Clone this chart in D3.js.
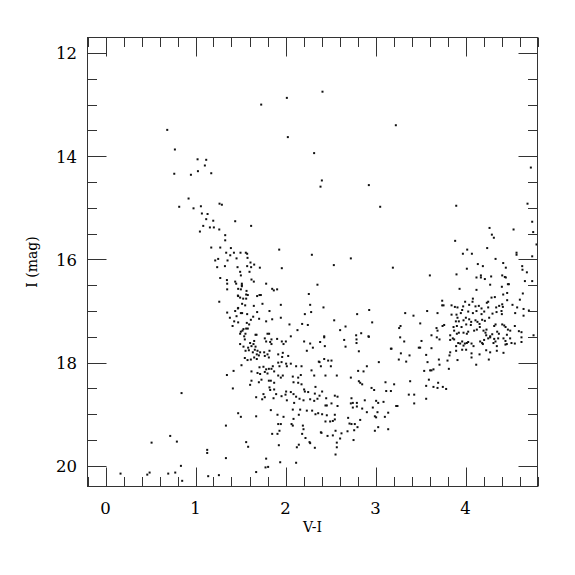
<!DOCTYPE html>
<html>
<head>
<meta charset="utf-8">
<script src="https://cdn.jsdelivr.net/npm/d3@7"></script>
<style>
  body { margin: 0; background: #fff; }
  text { font-family: "DejaVu Serif", "Liberation Serif", serif; fill: #000; }
</style>
</head>
<body>
<div id="cmd"></div>
<script>
// colour-magnitude diagram, [V-I, I] per star

const brightStars = [
  [0.686,13.49],[0.771,13.87],[1.023,14.06],[1.119,14.07],[1.104,14.18],[1.027,14.29],
  [1.175,14.33],[0.764,14.34],[0.949,14.36],
  [2.411,12.75],[2.015,12.87],[1.730,13.00],[2.026,13.63],[2.318,13.94],[2.404,14.47],
  [2.389,14.59],[2.926,14.56],[3.226,13.40],[4.726,14.22]
];

const blueBranch = [
  [0.923,14.82],[0.819,14.98],[1.060,14.97],[0.978,15.01],[1.267,14.92],[1.293,14.94],
  [1.071,15.11],[1.134,15.12],[1.119,15.22],[1.197,15.25],[1.441,15.26],[1.086,15.35],
  [1.160,15.38],[1.204,15.38],[1.049,15.46],[1.264,15.42],[1.330,15.53],[1.330,15.63],
  [1.175,15.77],[1.275,15.77],[1.393,15.78],[1.341,15.87],[1.427,15.87],[1.386,15.92],
  [1.219,16.02],[1.252,15.99],[1.356,16.02],[1.456,15.98],[1.241,16.15],[1.327,16.13],
  [1.467,16.15],[1.275,16.36],[1.349,16.40],[1.441,16.43],[1.452,16.47],[1.352,16.47],
  [1.352,16.58],[1.471,16.70],[1.264,16.82],[1.471,16.95],[1.441,17.00],[1.352,17.03],
  [1.456,17.10],[1.382,17.13],[1.430,17.20],[1.412,17.29]
];

const upperGiants = [
  [3.052,14.98],[1.618,15.35],[1.930,15.81],[2.293,15.91],[2.726,15.98],[2.537,16.11],
  [1.959,16.17],[2.355,16.49],[2.259,16.67],[2.274,16.88],[2.285,17.02],[2.215,17.06],
  [2.422,16.93],[2.796,17.06],[2.930,16.98],[2.963,17.22],[2.541,17.18],[2.248,17.27],
  [2.185,17.25],[2.044,17.26],[2.133,17.37],[2.607,17.37],[2.667,17.30],[2.785,17.47],
  [2.841,17.43],[2.922,17.49],[2.430,17.49],[2.059,17.49],
  [1.500,15.87],[1.559,15.87],[1.574,15.89],[1.578,15.97],[1.611,16.06],[1.574,16.13],
  [1.618,16.15],[1.652,16.10],[1.715,16.16],[1.496,16.24],[1.600,16.24],[1.504,16.31],
  [1.622,16.39],[1.648,16.43],[1.515,16.47],[1.515,16.50],[1.515,16.52],[1.785,16.47],
  [1.474,16.57],[1.504,16.58],[1.852,16.57],[1.870,16.60],[1.907,16.58],[1.567,16.61],
  [1.563,16.68],[1.581,16.69],[1.474,16.71],[1.496,16.74],[1.530,16.76],[1.563,16.76],
  [1.685,16.71],[1.711,16.69],[1.726,16.69],[1.518,16.86],[1.552,16.89],[1.474,16.94],
  [1.744,16.86],[1.648,16.90],[1.948,16.88],[1.504,17.04],[1.518,17.04],[1.574,17.06],
  [1.685,17.02],[1.822,17.00],[1.641,17.11],[1.948,17.13],[1.852,17.16],[1.615,17.17],
  [1.707,17.15],[1.785,17.20],[1.474,17.22],[1.570,17.23],[1.596,17.26],[1.563,17.34],
  [1.581,17.34],[1.533,17.35],[1.504,17.40],[1.522,17.38],[1.555,17.44],[1.496,17.44],
  [1.667,17.46],[1.678,17.46],[1.800,17.44],[1.818,17.44],[1.541,17.49]
];

const lowerGiants = [
  [1.548,17.55],[1.607,17.62],[1.652,17.58],[1.644,17.64],[1.770,17.53],[1.785,17.59],
  [1.830,17.60],[1.844,17.55],[1.844,17.64],[1.907,17.54],[1.959,17.59],[2.004,17.59],
  [1.978,17.64],[1.496,17.64],[2.207,17.59],[2.274,17.63],[2.304,17.71],[2.385,17.60],
  [2.437,17.68],[2.430,17.51],[2.652,17.56],[2.667,17.69],[2.789,17.55],[2.789,17.62],
  [2.815,17.78],[2.926,17.50],[2.237,17.77],
  [1.533,17.69],[1.585,17.71],[1.622,17.68],[1.667,17.69],[1.659,17.75],[1.689,17.77],
  [1.556,17.77],[1.593,17.76],[1.637,17.80],[1.681,17.84],[1.718,17.80],[1.704,17.86],
  [1.763,17.80],[1.800,17.84],[1.822,17.77],[1.815,17.90],[1.770,17.87],[1.919,17.84],
  [1.970,17.81],[1.963,17.89],[2.030,17.87],[1.548,17.91],[1.578,17.95],[1.615,17.94],
  [1.652,17.90],[1.681,17.93],
  [1.511,18.05],[1.622,18.17],[1.711,18.09],[1.755,18.08],[1.785,18.13],[1.815,18.12],
  [1.844,18.12],[1.859,18.07],[1.689,18.20],[1.718,18.22],[1.770,18.18],[1.800,18.21],
  [1.874,18.17],[1.919,18.00],[1.956,17.99],[1.933,18.07],[2.007,18.02],[2.059,18.02],
  [2.015,18.07],[2.118,18.07],[2.178,18.07],[2.378,17.99],[2.370,17.98],[2.430,17.93],
  [2.474,17.96],[2.511,17.96],[2.393,18.07],[2.504,18.07],[2.289,18.15],[2.319,18.25],
  [2.444,18.25],[2.570,18.25],[2.904,18.07],[2.867,18.17],[2.807,18.16],[3.037,17.99],
  [2.726,18.29],[1.919,18.25],[1.948,18.29],[1.970,18.25],[1.622,18.35],[1.607,18.43],
  [1.704,18.38],[1.733,18.33],[1.815,18.35],[1.837,18.35],[1.874,18.39],[2.081,18.27],
  [2.141,18.29],[2.170,18.24],[2.089,18.38],[2.141,18.39],[2.178,18.42],[2.333,18.47],
  [2.815,18.36],[2.852,18.42],[2.830,18.39],[2.956,18.49],[2.985,18.53],[3.111,18.38],
  [3.119,18.55]
];

const faintStars = [
  [1.822,18.48],[1.830,18.53],[1.874,18.52],[1.896,18.61],[1.755,18.61],[1.770,18.67],
  [1.867,18.69],[1.956,18.65],[1.674,18.67],[1.741,18.71],[2.007,18.56],[2.000,18.62],
  [2.059,18.57],[2.089,18.61],[2.118,18.66],[2.207,18.52],[2.215,18.56],[2.252,18.57],
  [2.274,18.71],[2.156,18.70],[2.200,18.73],[2.015,18.73],[2.096,18.78],[2.326,18.60],
  [2.355,18.70],[2.378,18.64],[2.407,18.56],[2.319,18.74],[2.452,18.69],[2.548,18.64],
  [2.578,18.66],[2.511,18.79],[2.578,18.84],[2.459,18.83],[2.444,18.83],[2.733,18.69],
  [2.748,18.78],[2.726,18.79],[2.793,18.78],[2.793,18.85],[2.748,18.87],[2.881,18.73],
  [2.970,18.87],[3.007,18.74],[3.030,18.78],[3.089,18.76],[2.852,18.89],[2.904,18.96],
  [2.993,19.04],[3.007,19.06],[3.022,18.96],
  [1.837,18.92],[1.911,19.01],[1.978,19.05],[1.674,19.04],[1.474,18.98],[1.504,19.05],
  [2.081,18.91],[2.163,18.91],[2.237,18.93],[2.296,18.93],[2.333,19.00],[2.363,18.98],
  [2.407,19.00],[2.148,19.01],[2.089,19.09],[2.459,19.02],[2.548,19.01],[2.548,19.10],
  [2.526,19.13],[2.496,19.14],[2.444,19.14],[2.696,19.07],[2.711,19.18],[2.733,19.19],
  [2.770,19.19],[2.830,19.11],[1.919,19.19],[1.948,19.19],[1.933,19.32],[2.067,19.19],
  [2.081,19.22],[2.193,19.22],[2.200,19.29],[2.185,19.38],[2.393,19.35],[2.400,19.36],
  [2.467,19.42],[2.526,19.41],[2.556,19.32],[2.622,19.37],[2.689,19.33],[2.763,19.31],
  [2.800,19.25],[2.993,19.32],[3.030,19.25],[3.104,19.05],[1.852,19.38],[1.911,19.38],
  [2.222,19.46],[2.267,19.54],[2.274,19.56],[2.148,19.59],[2.126,19.64],[2.326,19.65],
  [2.570,19.55],[2.607,19.47],[2.570,19.64],[2.756,19.50],[2.556,19.78],[1.563,19.54],
  [1.585,19.63],[1.926,19.60],[1.785,19.86],[1.941,19.93],[2.118,19.94],[1.778,20.03],
  [1.807,20.02],[1.674,20.12]
];

const blueFaint = [
  [1.423,18.16],[1.349,18.24],[1.415,18.50],[0.845,18.59],[1.338,19.22],[0.719,19.42],
  [0.512,19.55],[0.793,19.53],[1.130,19.69],[1.130,19.75],[1.338,19.85],[0.838,20.00],
  [0.167,20.15],[0.464,20.17],[0.490,20.13],[0.697,20.15],[0.775,20.13],[0.852,20.29],
  [1.141,20.20],[1.260,20.18]
];

const redGiants = [
  [4.689,14.92],[3.897,14.96],[4.741,15.27],[4.534,15.42],[4.752,15.47],[4.267,15.39],
  [4.293,15.52],[4.315,15.58],[3.885,15.64],[4.789,15.71],[4.241,15.78],[4.019,15.81],
  [3.971,15.89],[4.071,15.89],[4.567,15.87],[4.567,15.91],[4.741,15.94],[4.334,15.99],
  [4.419,16.07],[4.137,16.09],[4.193,16.13],[4.448,16.16],[4.630,16.13],[3.193,16.16],
  [4.015,16.18],[4.633,16.20],[4.682,16.25],[3.604,16.31],[3.900,16.29],[4.171,16.31],
  [4.171,16.35],[4.122,16.35],[4.215,16.38],[4.285,16.33],[4.408,16.31],[4.437,16.34],
  [4.448,16.35],[4.741,16.42],[4.660,16.42],[4.274,16.49],[4.404,16.53],[4.471,16.48],
  [4.482,16.48],[3.934,16.57],[4.122,16.59],[4.463,16.65],[4.419,16.68],[4.637,16.66],
  [4.289,16.74],[4.326,16.73],[4.252,16.82],[4.237,16.84],[4.463,16.79],[4.604,16.78],
  [4.082,16.76],[4.078,16.82],[3.996,16.82],[3.741,16.80]
];

const redClump = [
  [3.756,16.89],[3.741,16.89],[3.845,16.89],[3.882,16.92],[3.911,16.93],[3.974,16.91],
  [4.041,16.88],[4.111,16.91],[4.148,16.90],[4.178,16.95],[4.252,16.93],[4.341,16.93],
  [4.374,16.90],[4.408,16.87],[4.415,16.92],[4.522,16.88],[4.574,16.93],[4.645,16.96],
  [4.704,16.99],[3.574,17.00],[3.689,17.04],[3.845,17.07],[3.900,17.07],[3.948,17.04],
  [3.963,16.98],[4.030,17.01],[4.082,17.04],[4.122,17.00],[4.178,17.06],[4.208,17.01],
  [4.300,17.05],[4.345,17.02],[4.400,17.00],[4.404,17.06],[4.552,17.04],[4.645,17.09],
  [3.330,17.04],[3.422,17.09],[3.497,17.24],[3.278,17.29],[3.263,17.33],[3.763,17.27],
  [3.745,17.29],[3.678,17.33],[3.689,17.38],[3.867,17.31],[3.893,17.20],[3.911,17.13],
  [3.926,17.20],[3.978,17.18],[4.004,17.13],[4.041,17.16],[4.063,17.21],[4.111,17.18],
  [4.133,17.21],[4.156,17.25],[4.185,17.17],[4.215,17.19],[4.263,17.13],[4.059,17.27],
  [4.008,17.26],[3.956,17.31],[3.904,17.29],[3.874,17.38],[3.904,17.44],[3.926,17.42],
  [3.978,17.42],[4.015,17.44],[4.030,17.40],[4.096,17.38],[4.126,17.36],[4.159,17.31],
  [4.200,17.38],[4.222,17.42],[4.233,17.36],[4.319,17.29],[4.334,17.26],[4.408,17.26],
  [4.430,17.28],[4.445,17.31],[4.352,17.40],[4.371,17.44],[4.471,17.36],[4.497,17.38],
  [4.548,17.29],[4.593,17.39],[4.622,17.41],[4.756,17.47],[3.622,17.47],[3.830,17.47],
  [4.230,17.47],[4.297,17.45],[4.460,17.46],[4.274,17.49]
];

const clumpTail = [
  [3.274,17.51],[3.319,17.59],[3.178,17.73],[3.511,17.58],[3.496,17.71],[3.481,17.71],
  [3.681,17.51],[3.711,17.55],[3.830,17.56],[3.859,17.53],[3.874,17.55],[3.919,17.62],
  [3.941,17.63],[3.963,17.59],[3.993,17.63],[4.015,17.62],[4.030,17.60],[3.896,17.68],
  [3.963,17.75],[4.007,17.75],[3.978,17.67],[4.067,17.63],[4.089,17.68],[4.163,17.59],
  [4.185,17.62],[4.207,17.56],[4.252,17.53],[4.274,17.51],[4.319,17.54],[4.333,17.59],
  [4.311,17.62],[4.363,17.53],[4.422,17.53],[4.444,17.58],[4.459,17.64],[4.496,17.53],
  [4.511,17.62],[4.548,17.63],[4.622,17.60],[4.622,17.51],[4.193,17.64],[4.230,17.76],
  [4.274,17.80],[4.348,17.68],[4.348,17.77],[4.422,17.81],[4.444,17.65],[4.067,17.82],
  [4.067,17.90],[4.156,17.84],[3.830,17.80],[3.896,17.77],[3.171,17.73],[3.282,17.82],
  [3.259,17.94],[3.341,17.98],[3.378,17.86],[3.563,17.85],[3.622,17.72],[3.578,17.99],
  [3.704,17.94],[3.711,18.04],[3.800,17.96],[3.822,17.86],[3.911,17.95],[3.815,18.12],
  [4.119,18.04],[4.259,17.94],[3.541,18.16],[3.607,18.15],[3.622,18.15],[3.644,18.13],
  [3.593,18.33],[3.696,18.39],[3.207,18.42],[3.385,18.36],[3.563,18.45],[3.644,18.47],
  [3.689,18.49],[3.748,18.47],[3.785,18.51],[3.171,18.55],[3.370,18.62],[3.430,18.62],
  [3.430,18.79],[3.230,18.84],[3.244,18.84],[3.563,18.70],[3.141,18.97],[3.141,19.29]
];

const groups = [brightStars, blueBranch, upperGiants, lowerGiants, faintStars,
                blueFaint, redGiants, redClump, clumpTail];
const stars = groups.flat();

const xTicks = [0, 1, 2, 3, 4];
const yTicks = [12, 14, 16, 18, 20];

const W = 575, H = 575;
const padL = 87.5, padT = 37.5, pw = 450, ph = 449;

let svg = d3.select('#cmd').append('svg')
  .attr('width', W)
  .attr('height', H);

let x = d3.scaleLinear().domain([-0.2, 4.8]).range([padL, padL + pw]);
let y = d3.scaleLinear().domain([11.7, 20.4]).range([padT, padT + ph]);

// stars
svg.append('g')
  .selectAll('rect')
  .data(stars)
  .join('rect')
  .attr('x', d => x(d[0]) - 1)
  .attr('y', d => y(d[1]) - 1)
  .attr('width', 2)
  .attr('height', 2)
  .attr('fill', '#111');

// frame
svg.append('rect')
  .attr('x', padL)
  .attr('y', padT)
  .attr('width', pw)
  .attr('height', ph)
  .attr('fill', 'none')
  .attr('stroke', '#333')
  .attr('stroke-width', 1);

const MAJ = 19, MIN = 9.5;

// inward ticks on all four sides
let xMinor = d3.range(-0.2, 4.81, 0.2).map(v => +v.toFixed(1));
let yMinor = d3.range(12, 20.01, 0.5);

let tk = svg.append('g').attr('stroke', '#333').attr('stroke-width', 1);
xMinor.forEach(v => {
  let len = Number.isInteger(v) ? MAJ : MIN;
  let px = Math.round(x(v)) + 0.5;
  tk.append('line').attr('x1', px).attr('x2', px).attr('y1', padT + ph).attr('y2', padT + ph - len);
  tk.append('line').attr('x1', px).attr('x2', px).attr('y1', padT).attr('y2', padT + len);
});
yMinor.forEach(v => {
  let len = (v % 2 === 0) ? MAJ : MIN;
  let py = Math.round(y(v)) + 0.5;
  tk.append('line').attr('y1', py).attr('y2', py).attr('x1', padL).attr('x2', padL + len);
  tk.append('line').attr('y1', py).attr('y2', py).attr('x1', padL + pw).attr('x2', padL + pw - len);
});

// tick labels
svg.append('g')
  .selectAll('text')
  .data(xTicks)
  .join('text')
  .attr('x', d => x(d))
  .attr('y', 513.5)
  .attr('text-anchor', 'middle')
  .attr('font-size', 16.5)
  .text(d => d);

svg.append('g')
  .selectAll('text')
  .data(yTicks)
  .join('text')
  .attr('x', 77)
  .attr('y', d => y(d) + 6.5)
  .attr('text-anchor', 'end')
  .attr('font-size', 16.5)
  .text(d => d);

// axis titles
svg.append('text')
  .attr('x', x(2.3))
  .attr('y', 531.5)
  .attr('text-anchor', 'middle')
  .attr('font-size', 14)
  .text('V-I');

svg.append('text')
  .attr('transform', 'translate(37,262) rotate(-90)')
  .attr('text-anchor', 'middle')
  .attr('font-size', 14)
  .text('I (mag)');
</script>
</body>
</html>
